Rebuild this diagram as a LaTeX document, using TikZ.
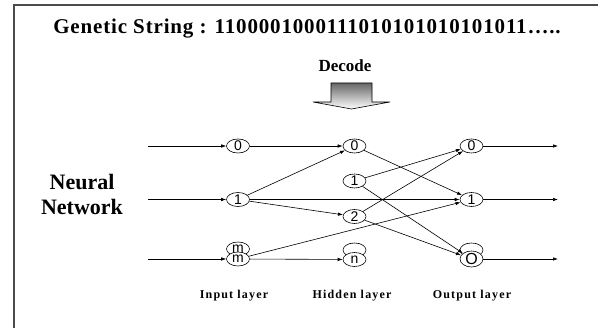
\documentclass[tikz,border=0pt]{standalone}
\usepackage{fontspec}
\setmainfont{Liberation Serif}
\newfontfamily\unitfont{Liberation Sans}
\newfontfamily\titlefont{Liberation Serif}[LetterSpace=4]
\newfontfamily\layerfont{Liberation Serif}[LetterSpace=10]
\usetikzlibrary{shapes.geometric,arrows.meta}

\begin{document}
\begin{tikzpicture}[x=1pt,y=-1pt,
    unit/.style={draw, ellipse, fill=white, minimum width=23pt, minimum height=14pt,
      inner sep=0pt, line width=0.6pt, font=\unitfont\fontsize{14}{14}\selectfont},
    link/.style={-{Latex[length=5pt,width=3.5pt]}, line width=0.6pt},
    layer/.style={font=\layerfont\bfseries\fontsize{12}{12}\selectfont}]
	\useasboundingbox (0,0) rectangle (598,328);
	% frame
	\draw[gray!60!black, line width=1.5pt] (14,328) -- (14,5) -- (598,5);

	\node[font=\titlefont\bfseries\fontsize{21}{21}\selectfont] (title) at (307,29) {Genetic String : 1100001000111010101010101011…..};
	\node[font=\bfseries\fontsize{17}{17}\selectfont] (decode) at (345,66) {Decode};
	\path[draw, line width=0.6pt, top color=gray!80!black, bottom color=white]
		(331,83) -- (372,83) -- (372,102) -- (390,102) -- (351.5,109) -- (313,102) -- (331,102) -- cycle;

	\node[align=center, font=\bfseries\fontsize{22}{25}\selectfont] (nn) at (82,194) {Neural\\Network};

	% input layer
	\node[unit] (imb) at (238,249) {m};
	\node[unit] (i0) at (238,146) {0};
	\node[unit] (i1) at (238,199.5) {1};
	\node[unit] (im) at (238,259) {m};
	% hidden layer
	\node[unit] (h0) at (354.5,146) {0};
	\node[unit] (h1) at (354.5,181) {1};
	\node[unit] (h2) at (354.5,216.5) {2};
	\node[unit] (hnb) at (354.5,250) {};
	\node[unit] (hn) at (354.5,259.5) {n};
	% output layer
	\node[unit] (o0) at (471.5,146) {0};
	\node[unit] (o1) at (471.5,199.5) {1};
	\node[unit] (omb) at (471.5,250) {};
	\node[unit, font=\unitfont\fontsize{16}{16}\selectfont] (om) at (471.5,259) {O};

	\coordinate (x0) at (148,146);
	\coordinate (x1) at (148,199.5);
	\coordinate (xm) at (148,259);
	\coordinate (y0) at (558,146);
	\coordinate (y1) at (558,199.5);
	\coordinate (ym) at (558,259);

	\draw[link] (x0) -- (i0);
	\draw[link] (x1) -- (i1);
	\draw[link] (xm) -- (im);

	\draw[link] (i0) -- (h0);
	\draw[link] (i1) -- (h0);
	\draw[link] (i1) -- (h2);
	\draw[link] (i1) -- (o1);
	\draw[link] (im) -- (hn);
	\draw[link] (im) -- (o1);

	\draw[link] (h0) -- (o1);
	\draw[link] (h1) -- (o0);
	\draw[link] (h1) -- (om);
	\draw[link] (h2) -- (o0);
	\draw[link] (h2) -- (om);

	\draw[link] (o0) -- (y0);
	\draw[link] (o1) -- (y1);
	\draw[link] (om) -- (ym);

	\node[layer] (inlab) at (234,296) {Input layer};
	\node[layer] (hidlab) at (352,296) {Hidden layer};
	\node[layer] (outlab) at (472,296) {Output layer};
\end{tikzpicture}
\end{document}
